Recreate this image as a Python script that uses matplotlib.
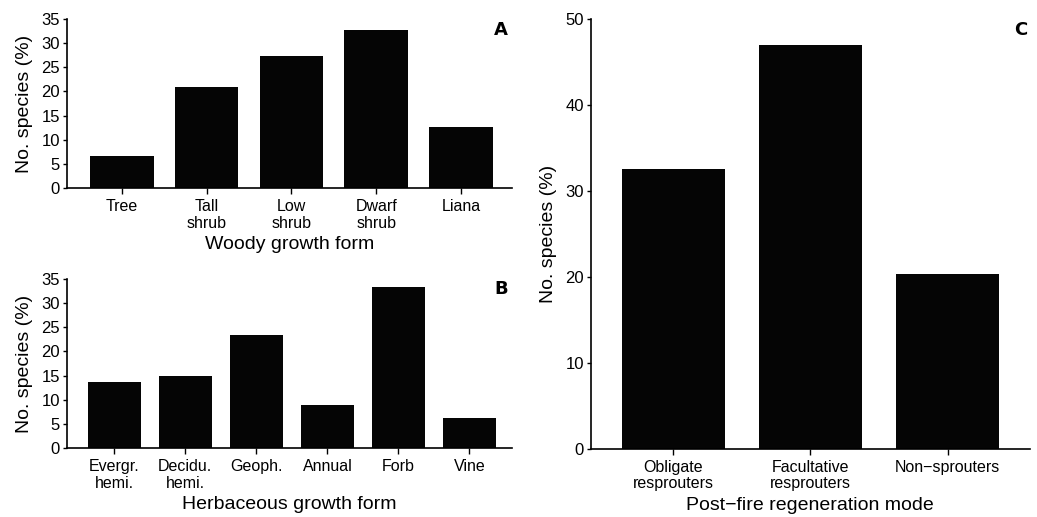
import matplotlib
matplotlib.use("Agg")
import matplotlib.pyplot as plt

plt.rcParams['font.family'] = ['Liberation Sans', 'DejaVu Sans']

woody_labels = ["Tree", "Tall\nshrub", "Low\nshrub", "Dwarf\nshrub", "Liana"]
woody_values = [6.6, 21.0, 27.2, 32.6, 12.6]

herb_labels = ["Evergr.\nhemi.", "Decidu.\nhemi.", "Geoph.", "Annual", "Forb", "Vine"]
herb_values = [13.7, 14.9, 23.4, 8.9, 33.3, 6.3]

regen_labels = ["Obligate\nresprouters", "Facultative\nresprouters", "Non\u2212sprouters"]
regen_values = [32.6, 47.0, 20.4]

fig = plt.figure(figsize=(10.37, 5.17), dpi=100)
W, H = 1037, 517

def ax_px(l, r, t, b):
    return fig.add_axes([l / W, (H - b) / H, (r - l) / W, (b - t) / H])

axA = ax_px(66.7, 512, 18.7, 188.3)
axB = ax_px(66.7, 512, 278.7, 448.3)
axC = ax_px(590.7, 1030, 19.3, 449)

def style(ax, labels, values, xlim, ylim, yticks, xlabel, letter, lx, ly):
    x = range(len(values))
    ax.bar(x, values, width=0.75, color="#050505")
    ax.set_xlim(*xlim)
    ax.set_ylim(*ylim)
    ax.set_yticks(yticks)
    ax.set_xticks(list(x))
    ax.set_xticklabels(labels, fontsize=11.5, linespacing=1.1)
    ax.tick_params(axis='y', labelsize=12, length=3, width=1, pad=2)
    ax.tick_params(axis='x', length=4, width=1, pad=4)
    for s in ["top", "right"]:
        ax.spines[s].set_visible(False)
    for s in ["left", "bottom"]:
        ax.spines[s].set_linewidth(1.2)
    ax.set_xlabel(xlabel, fontsize=14, labelpad=4)
    ax.set_ylabel("No. species (%)", fontsize=14, labelpad=6)
    ax.text(lx, ly, letter, transform=ax.transAxes, ha="right", va="center",
            fontsize=13, fontweight="bold", family="DejaVu Sans")

style(axA, woody_labels, woody_values, (-0.65, 4.6), (0, 35), range(0, 36, 5),
      "Woody growth form", "A", 0.99, 0.933)
style(axB, herb_labels, herb_values, (-0.67, 5.6), (0, 35), range(0, 36, 5),
      "Herbaceous growth form", "B", 0.99, 0.939)
style(axC, regen_labels, regen_values, (-0.6, 2.6), (0, 50), range(0, 51, 10),
      "Post\u2212fire regeneration mode", "C", 0.993, 0.976)

fig.savefig("out.png", dpi=100)
